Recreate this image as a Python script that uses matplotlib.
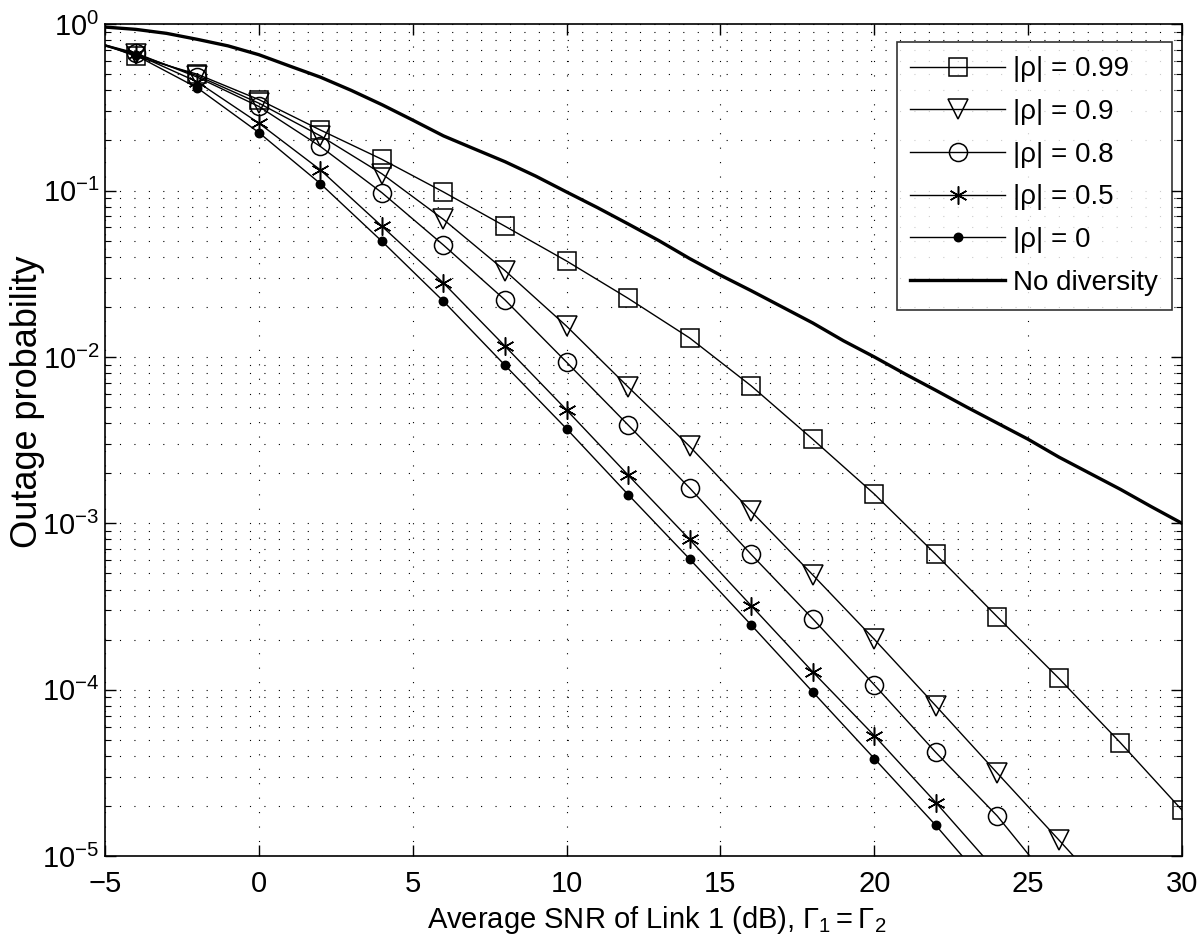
import matplotlib
matplotlib.use("Agg")
import matplotlib.pyplot as plt
from matplotlib.ticker import LogLocator, FixedLocator, NullFormatter, LogFormatterSciNotation

plt.rcParams['font.family'] = ['Liberation Sans', 'DejaVu Sans']
plt.rcParams['mathtext.fontset'] = 'custom'
plt.rcParams['mathtext.rm'] = 'Liberation Sans'
plt.rcParams['mathtext.it'] = 'Liberation Sans:italic'

# SNR points (dB); markers sit on the even values
snr = [-5, -4, -2, 0, 2, 4, 6, 8, 10, 12, 14, 16, 18, 20, 22, 24, 26, 28, 30]

p_099 = [0.75, 0.64, 0.50, 0.352, 0.231, 0.154, 0.098, 0.061, 0.0377, 0.0225, 0.013,
         0.0067, 0.0032, 0.0015, 0.00065, 0.000274, 0.000117, 4.8e-5, 1.89e-5]
p_09 = [0.75, 0.66, 0.49, 0.335, 0.213, 0.126, 0.067, 0.033, 0.0153, 0.0066, 0.0029,
        0.00118, 0.00049, 0.000201, 8.0e-5, 3.15e-5, 1.25e-5, 4.9e-6]
p_08 = [0.75, 0.67, 0.48, 0.32, 0.184, 0.097, 0.047, 0.022, 0.0093, 0.0039, 0.00163,
        0.00065, 0.000267, 0.000107, 4.2e-5, 1.74e-5, 6.1e-6]
p_05 = [0.74, 0.66, 0.45, 0.254, 0.133, 0.061, 0.0278, 0.0116, 0.0048, 0.00195, 0.0008,
        0.00032, 0.000128, 5.3e-5, 2.1e-5, 8.0e-6]
p_0 = [0.74, 0.65, 0.414, 0.223, 0.110, 0.0495, 0.0216, 0.0089, 0.0037, 0.00149, 0.00061,
       0.000245, 9.7e-5, 3.86e-5, 1.53e-5, 5.7e-6]

# no diversity curve, 1 dB steps
snr_nd = list(range(-5, 31))
p_nd = [0.96, 0.93, 0.88, 0.81, 0.74, 0.655, 0.56, 0.48, 0.40, 0.328, 0.265, 0.213, 0.178,
        0.149, 0.122, 0.098, 0.079, 0.063, 0.050, 0.039, 0.031, 0.025, 0.020, 0.016,
        0.0125, 0.0100, 0.0079, 0.0063, 0.0050, 0.0040, 0.0032, 0.0025, 0.0020,
        0.0016, 0.00126, 0.00100]

labels = ['|ρ| = 0.99', '|ρ| = 0.9', '|ρ| = 0.8', '|ρ| = 0.5', '|ρ| = 0', 'No diversity']

fig = plt.figure(figsize=(12, 9.46), dpi=100)
ax = fig.add_axes([0.0875, 0.095, 0.8975, 0.8795])

series = [
    (p_099, 's', 12.5, 'none'),
    (p_09, 'v', 14, 'none'),
    (p_08, 'o', 13, 'none'),
    (p_05, (6, 2, 0), 13, 'k'),
    (p_0, 'o', 6, 'k'),
]
for (vals, mk, ms, fc), lab in zip(series, labels):
    ax.semilogy(snr[:len(vals)], vals, color='k', lw=1.0, marker=mk, ms=ms,
                mfc=fc, mec='k', mew=1.1, markevery=slice(1, None), label=lab)

ax.semilogy(snr_nd, p_nd, color='k', lw=2.4, label=labels[-1])

ax.set_xlim(-5, 30)
ax.set_ylim(1e-5, 1)
ax.xaxis.set_major_locator(FixedLocator(range(-5, 31, 5)))
ax.yaxis.set_major_locator(LogLocator(base=10, numticks=10))
ax.yaxis.set_minor_locator(LogLocator(base=10, subs=range(2, 10), numticks=20))
ax.yaxis.set_major_formatter(LogFormatterSciNotation())
ax.yaxis.set_minor_formatter(NullFormatter())

ax.tick_params(which='both', direction='in', top=True, right=True, labelsize=21)
ax.tick_params(which='major', length=8, width=1.0)
ax.tick_params(which='minor', length=4, width=0.8)
ax.tick_params(axis='x', pad=10)
ax.tick_params(axis='y', pad=4)

ax.grid(True, which='major', axis='x', color='k', lw=0.8, ls=(0, (1, 12)))
ax.grid(True, which='both', axis='y', color='k', lw=0.8, ls=(0, (1, 12)))
for s in ax.spines.values():
    s.set_linewidth(1.2)

ax.set_xlabel(r'Average SNR of Link 1 (dB), $\Gamma_1 = \Gamma_2$', fontsize=21)
ax.xaxis.set_label_coords(0.512, -0.058)
ax.set_ylabel('Outage probability', fontsize=26)
ax.yaxis.set_label_coords(-0.056, 0.546)

leg = ax.legend(loc='upper right', bbox_to_anchor=(0.9907, 0.978), fontsize=20,
                handlelength=3.4, handletextpad=0.3, frameon=True, fancybox=False,
                borderaxespad=0, labelspacing=0.6, borderpad=0.5)
leg.get_frame().set_edgecolor('k')
leg.get_frame().set_linewidth(1.2)

fig.savefig('out.png', dpi=100)
